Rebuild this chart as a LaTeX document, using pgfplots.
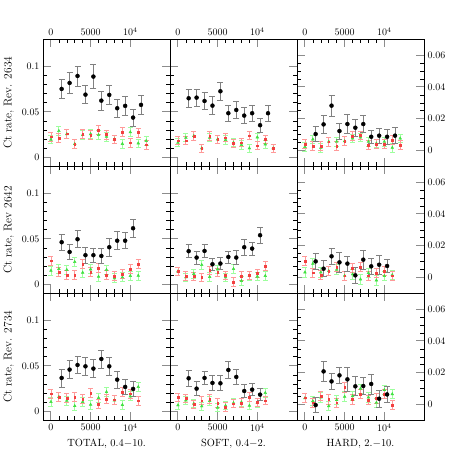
\documentclass[border=0pt]{standalone}
\usepackage{pgfplots}
\usepackage{pgfplotstable}
\pgfplotsset{compat=1.18}

% black points: x y err ; red/green: x r g err
\pgfplotstableread{
x y e
1350 0.0753 0.0103
2350 0.0819 0.0114
3350 0.0896 0.0110
4350 0.0690 0.0100
5350 0.0889 0.0130
6350 0.0624 0.0105
7350 0.0687 0.0100
8350 0.0540 0.0100
9350 0.0566 0.0103
10350 0.0437 0.0094
11350 0.0577 0.0100
}\kA
\pgfplotstableread{
x r g e
0 0.0227 0.0195 0.0048
1000 0.0210 0.0290 0.0048
2000 0.0260 0.0256 0.0048
3000 0.0147 0.0147 0.0048
4000 0.0256 0.0246 0.0048
5000 0.0246 0.0256 0.0048
6000 0.0300 0.0246 0.0048
7000 0.0250 0.0227 0.0048
8000 0.0198 0.0198 0.0048
9000 0.0279 0.0147 0.0048
10000 0.0161 0.0276 0.0048
11000 0.0272 0.0154 0.0048
12000 0.0139 0.0180 0.0048
}\cA
\pgfplotstableread{
x y e
1350 0.0650 0.0099
2350 0.0657 0.0092
3350 0.0620 0.0095
4350 0.0569 0.0097
5350 0.0727 0.0103
6350 0.0485 0.0088
7350 0.0521 0.0092
8350 0.0459 0.0088
9350 0.0485 0.0088
10350 0.0353 0.0080
11350 0.0485 0.0088
}\kB
\pgfplotstableread{
x r g e
0 0.0183 0.0161 0.0045
1000 0.0183 0.0216 0.0045
2000 0.0235 0.0235 0.0045
3000 0.0099 0.0099 0.0045
4000 0.0235 0.0216 0.0045
5000 0.0198 0.0198 0.0045
6000 0.0216 0.0191 0.0045
7000 0.0154 0.0161 0.0045
8000 0.0161 0.0136 0.0045
9000 0.0238 0.0099 0.0045
10000 0.0128 0.0220 0.0045
11000 0.0198 0.0143 0.0045
12000 0.0099 0.0099 0.0045
}\cB
\pgfplotstableread{
x y e
1350 0.0103 0.0046
2350 0.0164 0.0055
3350 0.0282 0.0065
4350 0.0122 0.0050
5350 0.0166 0.0059
6350 0.0143 0.0055
7350 0.0166 0.0055
8350 0.0086 0.0042
9350 0.0093 0.0048
10350 0.0086 0.0046
11350 0.0093 0.0050
}\kC
\pgfplotstableread{
x r g e
0 0.0040 0.0023 0.0027
1000 0.0028 0.0070 0.0027
2000 0.0028 0.0017 0.0027
3000 0.0055 0.0055 0.0027
4000 0.0028 0.0055 0.0027
5000 0.0059 0.0059 0.0027
6000 0.0091 0.0076 0.0027
7000 0.0095 0.0082 0.0027
8000 0.0034 0.0055 0.0027
9000 0.0040 0.0044 0.0027
10000 0.0040 0.0055 0.0027
11000 0.0066 0.0017 0.0027
12000 0.0034 0.0076 0.0027
}\cC
\pgfplotstableread{
x y e
1350 0.0463 0.0090
2350 0.0356 0.0086
3350 0.0496 0.0094
4350 0.0320 0.0088
5350 0.0320 0.0080
6350 0.0312 0.0080
7350 0.0408 0.0100
8350 0.0480 0.0097
9350 0.0480 0.0090
10350 0.0617 0.0099
}\kD
\pgfplotstableread{
x r g e
0 0.0260 0.0150 0.0050
1000 0.0136 0.0169 0.0050
2000 0.0103 0.0158 0.0050
3000 0.0103 0.0246 0.0050
4000 0.0220 0.0128 0.0050
5000 0.0136 0.0165 0.0050
6000 0.0176 0.0084 0.0050
7000 0.0099 0.0158 0.0050
8000 0.0092 0.0066 0.0050
9000 0.0114 0.0077 0.0050
10000 0.0169 0.0092 0.0050
11000 0.0224 0.0095 0.0050
}\cD
\pgfplotstableread{
x y e
1350 0.0364 0.0072
2350 0.0294 0.0070
3350 0.0367 0.0073
4350 0.0220 0.0064
5350 0.0228 0.0066
6350 0.0301 0.0066
7350 0.0294 0.0080
8350 0.0408 0.0088
9350 0.0393 0.0070
10350 0.0540 0.0088
}\kE
\pgfplotstableread{
x r g e
0 0.0143 0.0143 0.0045
1000 0.0092 0.0077 0.0045
2000 0.0085 0.0114 0.0045
3000 0.0077 0.0213 0.0045
4000 0.0151 0.0081 0.0045
5000 0.0129 0.0165 0.0045
6000 0.0099 0.0077 0.0045
7000 0.0026 0.0169 0.0045
8000 0.0092 0.0037 0.0045
9000 0.0099 0.0092 0.0045
10000 0.0121 0.0085 0.0045
11000 0.0202 0.0092 0.0045
}\cE
\pgfplotstableread{
x y e
1350 0.0101 0.0052
2350 0.0055 0.0050
3350 0.0133 0.0052
4350 0.0095 0.0065
5350 0.0087 0.0046
6350 0.0013 0.0048
7350 0.0112 0.0060
8350 0.0070 0.0052
9350 0.0080 0.0060
10350 0.0072 0.0042
}\kF
\pgfplotstableread{
x r g e
0 0.0104 0.0032 0.0030
1000 0.0030 0.0087 0.0030
2000 0.0015 0.0032 0.0030
3000 0.0041 0.0041 0.0030
4000 0.0066 0.0049 0.0030
5000 0.0011 0.0011 0.0030
6000 0.0060 0.0020 0.0030
7000 0.0066 -0.0012 0.0030
8000 0.0011 0.0028 0.0030
9000 0.0028 -0.0018 0.0030
10000 0.0041 0.0009 0.0030
11000 0.0011 0.0015 0.0030
}\cF
\pgfplotstableread{
x y e
1350 0.0367 0.0099
2350 0.0459 0.0097
3350 0.0510 0.0096
4350 0.0495 0.0096
5350 0.0470 0.0101
6350 0.0576 0.0099
7350 0.0495 0.0096
8350 0.0348 0.0092
9350 0.0268 0.0086
10350 0.0246 0.0079
}\kG
\pgfplotstableread{
x r g e
0 0.0194 0.0103 0.0050
1000 0.0154 0.0158 0.0050
2000 0.0147 0.0117 0.0050
3000 0.0154 0.0058 0.0050
4000 0.0136 0.0103 0.0050
5000 0.0202 0.0073 0.0050
6000 0.0080 0.0147 0.0050
7000 0.0136 0.0212 0.0050
8000 0.0128 0.0121 0.0050
9000 0.0209 0.0069 0.0050
10000 0.0194 0.0165 0.0050
11000 0.0117 0.0268 0.0050
}\cG
\pgfplotstableread{
x y e
1350 0.0363 0.0088
2350 0.0249 0.0075
3350 0.0367 0.0074
4350 0.0312 0.0081
5350 0.0308 0.0083
6350 0.0455 0.0090
7350 0.0378 0.0079
8350 0.0223 0.0070
9350 0.0238 0.0066
10350 0.0183 0.0066
}\kH
\pgfplotstableread{
x r g e
0 0.0154 0.0066 0.0045
1000 0.0143 0.0121 0.0045
2000 0.0076 0.0084 0.0045
3000 0.0117 0.0055 0.0045
4000 0.0136 0.0114 0.0045
5000 0.0091 0.0040 0.0045
6000 0.0047 0.0062 0.0045
7000 0.0084 0.0091 0.0045
8000 0.0091 0.0099 0.0045
9000 0.0158 0.0062 0.0045
10000 0.0099 0.0091 0.0045
11000 0.0117 0.0202 0.0045
}\cH
\pgfplotstableread{
x y e
1350 -0.0004 0.0048
2350 0.0208 0.0063
3350 0.0145 0.0050
4350 0.0183 0.0050
5350 0.0158 0.0075
6350 0.0114 0.0060
7350 0.0116 0.0055
8350 0.0129 0.0063
9350 0.0036 0.0055
10350 0.0063 0.0050
}\kI
\pgfplotstableread{
x r g e
0 0.0042 0.0040 0.0030
1000 0.0011 0.0021 0.0030
2000 0.0053 0.0045 0.0030
3000 0.0032 -0.0010 0.0030
4000 0.0011 0.0028 0.0030
5000 0.0108 0.0049 0.0030
6000 0.0032 0.0053 0.0030
7000 0.0065 0.0099 0.0030
8000 0.0028 0.0045 0.0030
9000 0.0038 0.0011 0.0030
10000 0.0065 0.0091 0.0030
11000 -0.0004 0.0065 0.0030
}\cI

\definecolor{grn}{rgb}{0.25,0.88,0.25}
\definecolor{grnerr}{rgb}{0.62,1,0.62}
\definecolor{rd}{rgb}{0.95,0.25,0.25}
\definecolor{rderr}{rgb}{1,0.6,0.6}

\pgfplotsset{
  panel/.style={
    scale only axis, width=127bp, height=127bp,
    anchor=south west,
    scaled ticks=false,
    xmin=-1000, xmax=15000,
    xtick={0,5000,10000}, xticklabels={},
    minor x tick num=4,
    xtick pos=both, ytick pos=both,
    tick align=inside,
    major tick length=8bp, minor tick length=4bp,
    major tick style={draw=black!45, line width=1bp},
    minor tick style={draw=black, line width=0.6bp},
    axis line style={line width=0.8bp},
    tick label style={font=\fontsize{10}{12}\selectfont},
    xlabel style={font=\fontsize{10.5}{12}\selectfont},
    ylabel style={font=\fontsize{11.5}{13}\selectfont,
      at={(axis description cs:-0.27,0.5)}, anchor=center},
  },
  lcol/.style={ymin=-0.01, ymax=0.13, ytick={0,0.05,0.1}, yticklabels={}, minor y tick num=4},
  lcolL/.style={lcol, yticklabels={0,0.05,0.1}},
  rcol/.style={ymin=-0.01, ymax=0.07, ytick={0,0.02,0.04,0.06}, minor y tick num=3,
    yticklabels={0,0.02,0.04,0.06}, yticklabel pos=right},
  toplab/.style={xticklabels={0,5000,$10^4$}, xticklabel pos=upper},
  botlab/.style={xticklabels={0,5000,$10^4$}, xticklabel pos=lower},
}

\newcommand{\panelplots}[2]{%
  \addplot[only marks, mark=triangle*, mark size=1.6bp, color=grn,
    error bars/.cd, y dir=both, y explicit,
    error bar style={grnerr, line width=0.8bp},
    error mark options={rotate=90, mark size=2.5bp, grnerr, line width=0.8bp}]
    table[x=x, y=g, y error=e] {#2};
  \addplot[only marks, mark=square*, mark size=0.9bp, color=rd,
    error bars/.cd, y dir=both, y explicit,
    error bar style={rderr, line width=0.8bp},
    error mark options={rotate=90, mark size=2.5bp, rderr, line width=0.8bp}]
    table[x=x, y=r, y error=e] {#2};
  \addplot[only marks, mark=*, mark size=2bp, color=black,
    error bars/.cd, y dir=both, y explicit,
    error bar style={black!50, line width=0.8bp},
    error mark options={rotate=90, mark size=3bp, black!50, line width=0.8bp}]
    table[x=x, y=y, y error=e] {#1};
}

\begin{document}
\begin{tikzpicture}
\path[use as bounding box] (-43bp,-42.7bp) rectangle (420bp,420.3bp);

% top row
\begin{axis}[panel, lcolL, toplab, at={(0bp,254bp)}, ylabel={Ct rate, Rev. 2634}]
\panelplots{\kA}{\cA}
\end{axis}
\begin{axis}[panel, lcol, toplab, at={(127bp,254bp)}]
\panelplots{\kB}{\cB}
\end{axis}
\begin{axis}[panel, rcol, toplab, at={(254bp,254bp)}]
\panelplots{\kC}{\cC}
\end{axis}

% middle row
\begin{axis}[panel, lcolL, at={(0bp,127bp)}, ylabel={Ct rate, Rev 2642}]
\panelplots{\kD}{\cD}
\end{axis}
\begin{axis}[panel, lcol, at={(127bp,127bp)}]
\panelplots{\kE}{\cE}
\end{axis}
\begin{axis}[panel, rcol, at={(254bp,127bp)}]
\panelplots{\kF}{\cF}
\end{axis}

% bottom row
\begin{axis}[panel, lcolL, botlab, at={(0bp,0bp)}, ylabel={Ct rate, Rev. 2734},
  xlabel={TOTAL, 0.4$-$10.}]
\panelplots{\kG}{\cG}
\end{axis}
\begin{axis}[panel, lcol, botlab, at={(127bp,0bp)}, xlabel={SOFT, 0.4$-$2.}]
\panelplots{\kH}{\cH}
\end{axis}
\begin{axis}[panel, rcol, botlab, at={(254bp,0bp)}, xlabel={HARD, 2.$-$10.}]
\panelplots{\kI}{\cI}
\end{axis}
\end{tikzpicture}
\end{document}
